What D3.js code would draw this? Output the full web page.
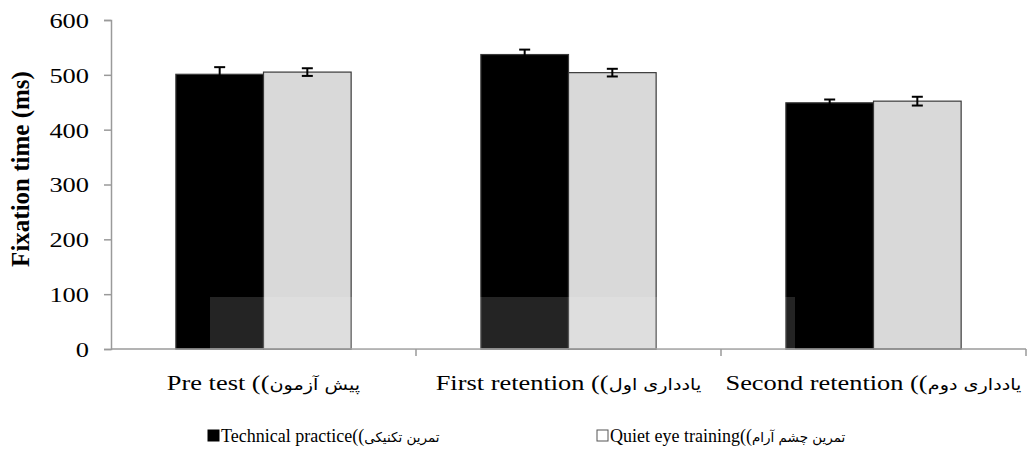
<!DOCTYPE html>
<html>
<head>
<meta charset="utf-8">
<script src="https://cdn.jsdelivr.net/npm/d3@7"></script>
<style>
  body { margin: 0; background: #fff; }
</style>
</head>
<body>
<svg id="chart" width="1028" height="472"></svg>
<script>
//// DATA
const CATEGORIES_EN = ["Pre test", "First retention", "Second retention"];
const CATEGORIES_FA = ["پیش آزمون", "یادداری اول", "یادداری دوم"];
const SERIES_EN = ["Technical practice", "Quiet eye training"];
const SERIES_FA = ["تمرین تکنیکی", "تمرین چشم آرام"];
const TECHNICAL = [501, 537, 449];
const TECHNICAL_ERR = [13, 9, 6];
const QUIET_EYE = [505, 504, 452];
const QUIET_EYE_ERR = [7, 7, 8];
const Y_TICKS = [0, 100, 200, 300, 400, 500, 600];

const COLORS = ["#000000", "#d9d9d9"];
const AXIS_COLOR = "#9a9a9a";
const SERIF = "'Liberation Serif', 'Times New Roman', Times, serif";
const FA_FONT = "'DejaVu Sans', sans-serif";
const STRETCH = 1.2; // the chart picture is a bit wider than tall

//// LAYOUT
const svg = d3.select("#chart");
const plot = { left: 111, right: 1026, top: 20, bottom: 349 };

const x = d3.scaleBand()
  .domain(CATEGORIES_EN)
  .range([plot.left, plot.right])
  .paddingInner(0)
  .paddingOuter(0);

const inner = d3.scaleBand()
  .domain([0, 1])
  .range([0, x.bandwidth()])
  .paddingOuter(0.74)
  .paddingInner(0);

const y = d3.scaleLinear().domain([0, 600]).range([plot.bottom, plot.top]);

const series = [
  { values: TECHNICAL, err: TECHNICAL_ERR },
  { values: QUIET_EYE, err: QUIET_EYE_ERR }
];

//// AXES
const yAxis = svg.append("g")
  .attr("transform", `translate(${plot.left},0)`)
  .call(d3.axisLeft(y).tickValues(Y_TICKS).tickSize(7));
yAxis.attr("font-family", null);
yAxis.select(".domain").attr("stroke", AXIS_COLOR).attr("stroke-width", 1.5);
yAxis.selectAll(".tick line").attr("stroke", AXIS_COLOR).attr("stroke-width", 1.5);
yAxis.selectAll(".tick text")
  .style("font-family", SERIF)
  .attr("font-size", 22)
  .attr("fill", "#000")
  .attr("x", 0)
  .attr("dy", "0.34em")
  .attr("transform", `translate(-22,0) scale(${STRETCH},1)`);

//// BARS
const groups = svg.append("g").selectAll("g")
  .data(series)
  .join("g");

groups.each(function (s, si) {
  const g = d3.select(this);
  g.selectAll("rect")
    .data(s.values)
    .join("rect")
    .attr("x", (d, i) => x(CATEGORIES_EN[i]) + inner(si))
    .attr("y", d => y(d))
    .attr("width", inner.bandwidth())
    .attr("height", d => y(0) - y(d))
    .attr("fill", COLORS[si])
    .attr("stroke", "#3a3a3a")
    .attr("stroke-width", 1.2);
});

// error bars
groups.each(function (s, si) {
  const g = d3.select(this).append("g").attr("stroke", "#000").attr("stroke-width", 2);
  s.values.forEach((v, i) => {
    const cx = x(CATEGORIES_EN[i]) + inner(si) + inner.bandwidth() / 2;
    const hi = y(v + s.err[i]), lo = y(v - s.err[i]);
    g.append("line").attr("x1", cx).attr("x2", cx).attr("y1", hi).attr("y2", lo);
    g.append("line").attr("x1", cx - 5.5).attr("x2", cx + 5.5).attr("y1", hi).attr("y2", hi);
    g.append("line").attr("x1", cx - 5.5).attr("x2", cx + 5.5).attr("y1", lo).attr("y2", lo);
  });
});

// x axis (category boundaries as ticks)
const xAxis = svg.append("g");
xAxis.append("line")
  .attr("x1", plot.left).attr("x2", plot.right)
  .attr("y1", y(0)).attr("y2", y(0))
  .attr("stroke", AXIS_COLOR).attr("stroke-width", 1.5);
xAxis.selectAll("line.tick")
  .data(CATEGORIES_EN)
  .join("line")
  .attr("class", "tick")
  .attr("x1", d => x(d) + x.bandwidth()).attr("x2", d => x(d) + x.bandwidth())
  .attr("y1", y(0)).attr("y2", y(0) + 7)
  .attr("stroke", AXIS_COLOR).attr("stroke-width", 1.5);

// faint watermark band
svg.append("rect")
  .attr("x", 210).attr("y", 297).attr("width", 585).attr("height", 52)
  .attr("fill", "#fff").attr("opacity", 0.14);

// mixed English / Persian label helper
function mixedLabel(parent, en, fa, cx, baseline, enSize, faSize, anchor, stretch) {
  const g = parent.append("g");
  const t1 = g.append("text")
    .attr("x", 0)
    .attr("font-size", enSize)
    .attr("direction", "ltr")
    .style("font-family", SERIF)
    .style("unicode-bidi", "bidi-override")
    .text(en);
  const t2 = g.append("text")
    .attr("font-size", faSize)
    .style("font-family", FA_FONT)
    .text(fa);
  const w1 = t1.node().getComputedTextLength();
  const w2 = t2.node().getComputedTextLength();
  t2.attr("x", w1);
  const total = (w1 + w2) * stretch;
  const start = anchor === "middle" ? cx - total / 2 : cx;
  g.attr("transform", `translate(${start},${baseline}) scale(${stretch},1)`);
  return total;
}

// category labels
CATEGORIES_EN.forEach((c, i) => {
  mixedLabel(svg, c + " ((", CATEGORIES_FA[i], x(c) + x.bandwidth() / 2, 390, 22, 16, "middle", STRETCH);
});

// y axis title
svg.append("text")
  .attr("transform", `translate(28.5,169) rotate(-90)`)
  .attr("text-anchor", "middle")
  .attr("font-size", 25)
  .attr("font-weight", "bold")
  .style("font-family", SERIF)
  .text("Fixation time (ms)");

// legend
const legendX = [208, 597];
SERIES_EN.forEach((s, i) => {
  const lx = legendX[i];
  svg.append("rect")
    .attr("x", lx).attr("y", 430)
    .attr("width", 11).attr("height", 11)
    .attr("fill", i === 0 ? "#000" : "#fff")
    .attr("stroke", i === 0 ? "#000" : "#555")
    .attr("stroke-width", 1);
  mixedLabel(svg, s + "((", SERIES_FA[i], lx + 13, 442, 18, 13.5, "start", 1);
});
</script>
</body>
</html>
